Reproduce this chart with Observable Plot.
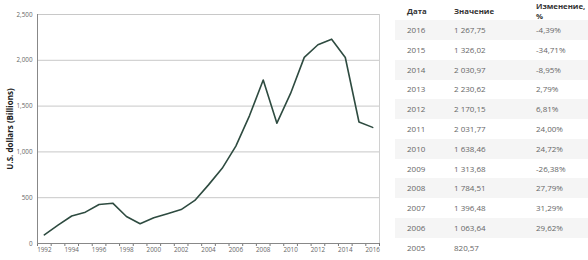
<!DOCTYPE html>
<html><head><meta charset="utf-8">
<script src="https://cdn.jsdelivr.net/npm/d3@7"></script>
<script src="https://cdn.jsdelivr.net/npm/@observablehq/plot@0.6"></script>
<style>
body{margin:0;background:#fff;font-family:"Open Sans",sans-serif;}
#wrap{position:relative;width:588px;height:260px;overflow:hidden;background:#fff}
#chart{position:absolute;left:0;top:0}
.row{position:absolute;left:395px;width:193px;height:20px}
.cell{position:absolute;font-size:8px;color:#666;line-height:10px;white-space:nowrap}
.hdr{position:absolute;font-size:7.8px;color:#333;font-weight:bold;line-height:9.5px;white-space:nowrap}
</style></head><body>
<div id="wrap"><div id="chart"></div><div id="table"></div></div>
<script>
const years = [1992,1993,1994,1995,1996,1997,1998,1999,2000,2001,2002,2003,2004,2005,2006,2007,2008,2009,2010,2011,2012,2013,2014,2015,2016];
const gdp = [95,200,300,342,426,440,295,215,280,325,370,470,640,820.57,1063.64,1396.48,1784.51,1313.68,1638.46,2031.77,2170.15,2230.62,2030.97,1326.02,1267.75];
const yTicks = [0,500,1000,1500,2000,2500];
const xLabels = [1992,1994,1996,1998,2000,2002,2004,2006,2008,2010,2012,2014,2016];
const yTitle = "U.S. dollars (Billions)";

const tableHeaders = ["Дата","Значение","Изменение,\n%"];
const tableYears = [2016,2015,2014,2013,2012,2011,2010,2009,2008,2007,2006,2005];
const tableValues = [1267.75,1326.02,2030.97,2230.62,2170.15,2031.77,1638.46,1313.68,1784.51,1396.48,1063.64,820.57];
const tableChanges = [-4.39,-34.71,-8.95,2.79,6.81,24.00,24.72,-26.38,27.79,31.29,29.62,null];

const data = years.map((y,i)=>({year:y, value:gdp[i]}));
const chart = Plot.plot({
  width: 390, height: 260,
  marginLeft: 37, marginRight: 11, marginTop: 14, marginBottom: 17,
  style:{fontFamily:"Open Sans", fontSize:"6.3px", color:"#666", background:"#fff", overflow:"visible"},
  x:{domain:[1991.5,2016.5], axis:null},
  y:{domain:[0,2500], axis:null},
  marks:[
    Plot.gridY(yTicks.slice(1),{stroke:"#c8c8c8", strokeOpacity:1}),
    Plot.axisY(yTicks,{tickSize:0, tickPadding:5, tickFormat:d3.format(","), label:null, fill:"#666"}),
    Plot.axisX(d3.range(1991.5,2017,1),{tickSize:3, tickFormat:()=>"", label:null, stroke:"#777"}),
    Plot.axisX(xLabels,{tickSize:0, tickPadding:4, tickFormat:d=>String(d), label:null, fill:"#666"}),
    Plot.ruleX([1991.5],{stroke:"#888"}),
    Plot.ruleX([2016.5],{stroke:"#d0d0d0"}),
    Plot.ruleY([0],{stroke:"#888"}),
    Plot.lineY(data,{x:"year", y:"value", stroke:"#2e4b40", strokeWidth:1.6}),
    Plot.text([yTitle],{frameAnchor:"left", textAnchor:"middle", dx:-27, rotate:-90, text:d=>d, fontWeight:"bold", fontSize:8, fill:"#222"})
  ]
});
document.getElementById("chart").append(chart);

function ru(v){
  const s = v.toFixed(2).split(".");
  const int = s[0].replace(/\B(?=(\d{3})+(?!\d))/g," ");
  return int + "," + s[1];
}
const tbl = document.getElementById("table");
const colX = [407,454,536];
const h = tableHeaders;
[[h[0],colX[0],7],[h[1],colX[1],7],[h[2],colX[2],2]].forEach(([t,x,y])=>{
  const d=document.createElement("div"); d.className="hdr";
  d.style.left=x+"px"; d.style.top=y+"px"; d.style.whiteSpace="pre"; d.textContent=t; tbl.append(d);
});
tableYears.forEach((yr,i)=>{
  const cy = 30 + 19.8*i;
  if(i%2===0){
    const r=document.createElement("div"); r.className="row";
    r.style.top=(cy-10)+"px"; r.style.background="#f5f5f5"; tbl.append(r);
  }
  const vals=[String(yr), ru(tableValues[i]), tableChanges[i]==null?"":ru(tableChanges[i])+"%"];
  vals.forEach((t,j)=>{
    const c=document.createElement("div"); c.className="cell";
    c.style.left=colX[j]+"px"; c.style.top=(cy-5)+"px"; c.textContent=t; tbl.append(c);
  });
});
</script>
</body></html>
